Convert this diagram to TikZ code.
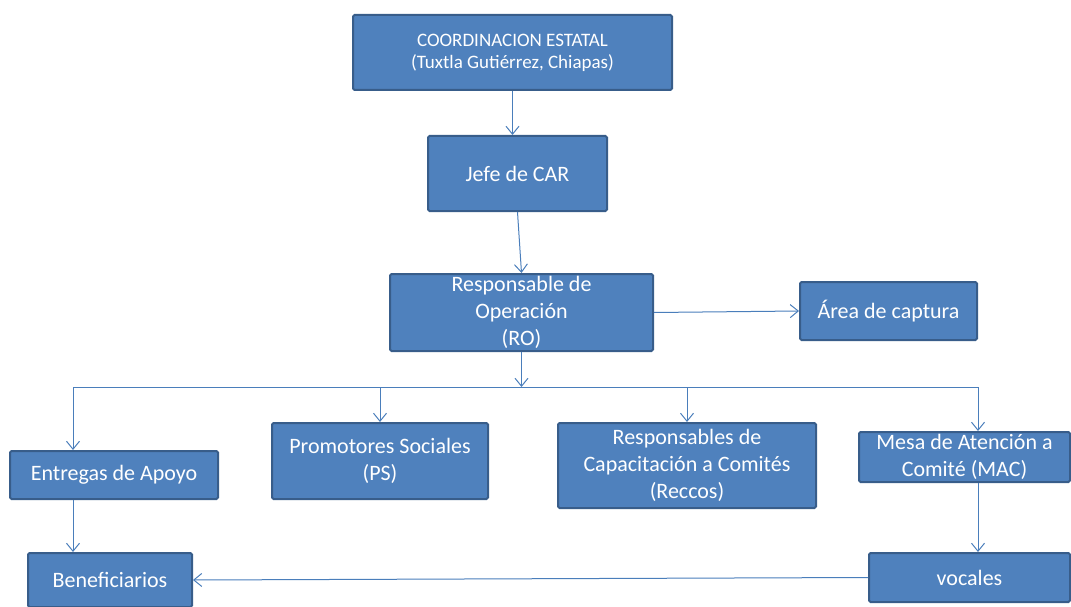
\documentclass[tikz,border=0pt]{standalone}
\usepackage{fontspec}
\setmainfont{Carlito}
\usetikzlibrary{arrows.meta}
\definecolor{boxfill}{HTML}{4F81BD}
\definecolor{boxline}{HTML}{385D8A}
\definecolor{linkcol}{HTML}{4A7EBB}
\begin{document}
\begin{tikzpicture}[x=1pt, y=-1pt, align=center]
    \tikzset{%
      segm/.style={fill=boxfill, draw=boxline, line width=2pt, rounded corners=1.5pt, text=white, inner sep=0pt,
        font=\fontsize{22}{27}\selectfont},
      conn/.style={draw=linkcol, line width=1pt, -{Straight Barb[length=8pt, width=13pt]}}
      }
    \useasboundingbox (0,0) rectangle (1071,607);

    \node [segm, minimum width=319, minimum height=75, font=\fontsize{19}{22}\selectfont] (Xcoord) at (512.5,52.5)
      {COORDINACION ESTATAL\\(Tuxtla Gutiérrez, Chiapas)};
    \node [segm, minimum width=179, minimum height=75] (Xjefe) at (517.5,173.5) {Jefe de CAR};
    \node [segm, minimum width=263, minimum height=77] (Xro) at (521.5,312.5) {Responsable de\\Operación\\(RO)};
    \node [segm, minimum width=177, minimum height=58] (Xarea) at (888.5,311) {Área de captura};

    \draw [conn] (Xcoord.south) -- (Xcoord.south |- Xjefe.north);
    \draw [conn] (Xjefe.south) -- (Xro.north);
    \draw [conn] (Xro.east) -- (Xarea.west);

    \node [segm, minimum width=208, minimum height=48] (Xent) at (114,475) {Entregas de Apoyo};
    \node [segm, minimum width=216, minimum height=76] (Xps) at (380,461) {Promotores Sociales\\(PS)};
    \node [segm, minimum width=258, minimum height=85] (Xrec) at (687,465.5) {Responsables de\\Capacitación a Comités\\(Reccos)};
    \node [segm, minimum width=211, minimum height=50] (Xmac) at (964.5,457) {Mesa de Atención a\\Comité (MAC)};

    \coordinate (Xbus) at (521.5,387);
    \draw [conn] (Xro.south) -- (Xbus);
    \draw [conn] (Xbus) -| ([xshift=-41pt]Xent.north);
    \draw [conn] (Xbus) -| (Xps.north);
    \draw [conn] (Xbus) -| (Xrec.north);
    \draw [conn] (Xbus) -| ([xshift=13.5pt]Xmac.north);

    \node [segm, minimum width=164, minimum height=54] (Xben) at (110,580) {Beneficiarios};
    \node [segm, minimum width=201, minimum height=49] (Xvoc) at (969.5,577.5) {vocales};

    \draw [conn] ([xshift=-41pt]Xent.south) -- ([xshift=-41pt]Xent.south |- Xben.north);
    \draw [conn] ([xshift=13.5pt]Xmac.south) -- ([xshift=13.5pt]Xmac.south |- Xvoc.north);
    \draw [conn] (Xvoc.west) -- (Xben.east);
  \end{tikzpicture}
\end{document}
